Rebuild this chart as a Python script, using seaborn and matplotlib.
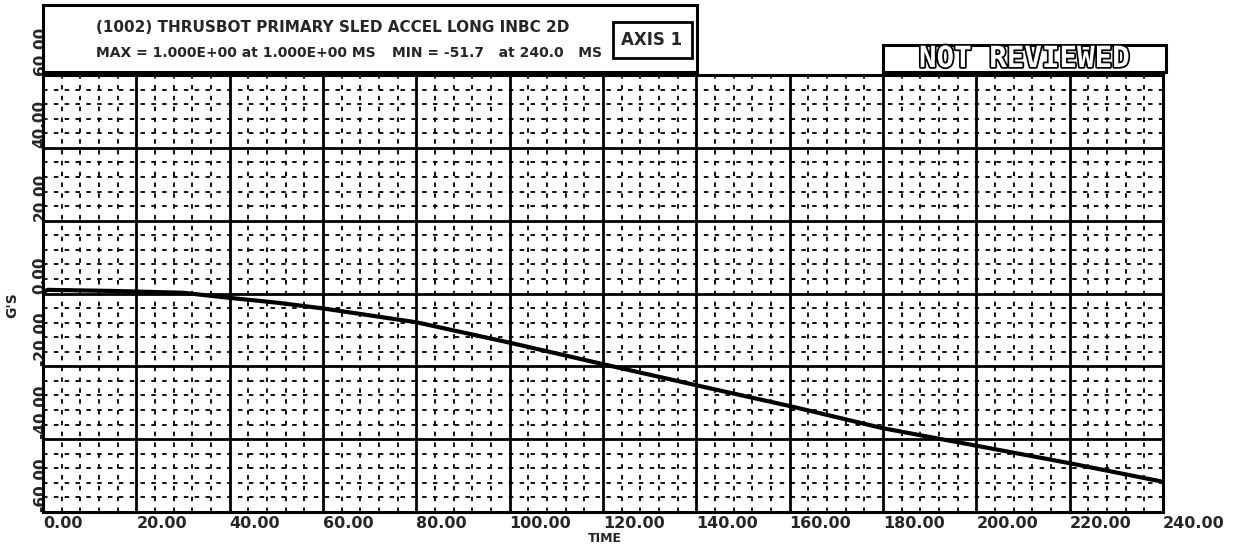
import matplotlib
matplotlib.use("Agg")
import matplotlib.pyplot as plt
import matplotlib.patheffects as pe
from matplotlib.patches import Rectangle
from matplotlib.ticker import MultipleLocator
import numpy as np
import pandas as pd
import seaborn as sns

# Sled acceleration trace (time in ms, acceleration in G)
time_ms = [0, 1, 15, 30, 40, 50, 60, 80, 100, 120, 140, 160, 180, 200, 220, 240]
accel_g = [0.4, 1.0, 0.7, 0.2, -1.2, -2.5, -4.1, -7.9, -13.5, -19.4, -25.2,
           -30.9, -37.0, -41.8, -46.6, -51.7]

x_ticks = [0, 20, 40, 60, 80, 100, 120, 140, 160, 180, 200, 220, 240]
y_ticks = [-60, -40, -20, 0, 20, 40, 60]
x_tick_labels = ["%.2f" % v for v in x_ticks]
y_tick_labels = ["%.2f" % v for v in y_ticks]

title_line1 = "(1002) THRUSBOT PRIMARY SLED ACCEL LONG INBC 2D"
max_text = "MAX = 1.000E+00 at 1.000E+00 MS"
min_text = "MIN = -51.7   at 240.0   MS"
axis_tag = "AXIS 1"
stamp_text = "NOT REVIEWED"
x_label = "TIME"
y_label = "G'S"

sns.set_style("white")
plt.rcParams["font.family"] = ["DejaVu Sans"]
plt.rcParams["font.weight"] = "bold"
plt.rcParams["axes.unicode_minus"] = False

W, H = 1241, 546
fig = plt.figure(figsize=(W / 100, H / 100), dpi=100)
ax = fig.add_axes([43 / W, 1 - 512 / H, (1163 - 43) / W, (512 - 75) / H])

df = pd.DataFrame({"time": time_ms, "accel": accel_g})
sns.lineplot(data=df, x="time", y="accel", ax=ax, color="black", lw=3.0,
             zorder=5)

ax.set_xlim(0, 240)
ax.set_ylim(-60, 60)
ax.xaxis.set_major_locator(MultipleLocator(20))
ax.yaxis.set_major_locator(MultipleLocator(20))
ax.xaxis.set_minor_locator(MultipleLocator(4))
ax.yaxis.set_minor_locator(MultipleLocator(4))
ax.grid(which="major", color="black", lw=2.0)
ax.grid(which="minor", color="black", lw=1.3, linestyle=(0, (2.5, 3.5)))
ax.set_axisbelow(True)

ax.set_xticks(x_ticks)
ax.set_xticklabels(x_tick_labels, ha="left", fontsize=11.5, fontweight="bold")
ax.set_yticks(y_ticks)
ax.set_yticklabels(y_tick_labels, rotation=90, va="bottom", ha="center",
                   fontsize=11, fontweight="bold")
ax.tick_params(which="both", length=0, pad=3)
ax.tick_params(axis="y", pad=2)
ax.set_xlabel("")
ax.set_ylabel("")
for s in ax.spines.values():
    s.set_color("black")
    s.set_linewidth(2.2)

fig.text(605 / W, 1 - 538 / H, x_label, ha="center", va="center",
         fontsize=9, fontweight="bold")
fig.text(12 / W, 1 - 305 / H, y_label, ha="center", va="center",
         rotation=90, fontsize=10, fontweight="bold")

# Header box with title and extremes
fig.patches.append(Rectangle((43 / W, 1 - 72 / H), (697 - 43) / W, 67 / H,
                             transform=fig.transFigure, fill=False,
                             ec="black", lw=2.2))
fig.text(96 / W, 1 - 27 / H, title_line1, ha="left", va="center",
         fontsize=11, fontweight="bold")
fig.text(96 / W, 1 - 53 / H, max_text, ha="left", va="center",
         fontsize=10, fontweight="bold")
fig.text(392 / W, 1 - 53 / H, min_text, ha="left", va="center",
         fontsize=10, fontweight="bold")
fig.patches.append(Rectangle((613 / W, 1 - 58 / H), (692 - 613) / W, 36 / H,
                             transform=fig.transFigure, fill=False,
                             ec="black", lw=2.0))
fig.text(652 / W, 1 - 40 / H, axis_tag, ha="center", va="center",
         fontsize=12, fontweight="bold")

# Review stamp
fig.patches.append(Rectangle((883 / W, 1 - 72 / H), (1166 - 883) / W, 27 / H,
                             transform=fig.transFigure, fill=False,
                             ec="black", lw=2.2))
fig.text(1024 / W, 1 - 59 / H, stamp_text, ha="center", va="center",
         fontsize=21, family="DejaVu Sans Mono", color="white",
         fontweight="bold", fontstretch="expanded",
         path_effects=[pe.withStroke(linewidth=2.5, foreground="black")])

fig.savefig("out.png", dpi=100)
